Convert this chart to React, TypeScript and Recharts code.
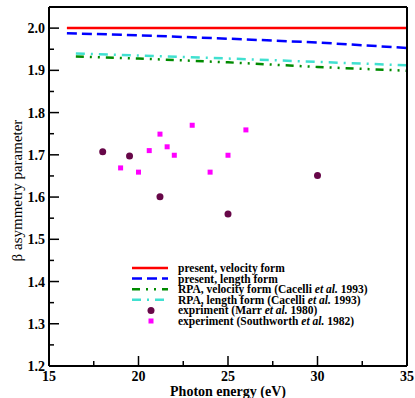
import { ComposedChart, Line, Scatter, XAxis, YAxis, Legend } from 'recharts'

const FONT = '"Liberation Serif", "Times New Roman", serif'

// axis ticks
const xTicks = [15, 17.5, 20, 22.5, 25, 27.5, 30, 32.5, 35]
const yTicks = [1.2, 1.25, 1.3, 1.35, 1.4, 1.45, 1.5, 1.55, 1.6, 1.65, 1.7, 1.75, 1.8, 1.85, 1.9, 1.95, 2.0]

// theory curves
const presentEnergy = [16, 20, 25, 30, 35]
const presentVelocity = [2.0, 2.0, 2.0, 2.0, 2.0]
const presentLength = [1.988, 1.983, 1.975, 1.966, 1.953]
const rpaEnergy = [16.5, 20, 25, 30, 35]
const rpaVelocity = [1.933, 1.928, 1.919, 1.908, 1.899]
const rpaLength = [1.94, 1.935, 1.928, 1.92, 1.912]

// experiments
const marrEnergy = [18, 19.5, 21.2, 25, 30]
const marrBeta = [1.707, 1.697, 1.601, 1.56, 1.651]
const southEnergy = [19, 20, 20.6, 21.2, 21.6, 22, 23, 24, 25, 26]
const southBeta = [1.669, 1.659, 1.71, 1.749, 1.719, 1.699, 1.77, 1.659, 1.699, 1.759]

const zip = (xs: number[], ys: number[]) => xs.map((x, i) => ({ x, y: ys[i] }))

const isMajorX = (v: number) => Math.abs(v % 5) < 1e-6
const isMajorY = (v: number) => Math.round(v * 100) % 10 === 0

function BottomTick({ x, y, payload }: any) {
  const major = isMajorX(payload.value)
  return (
    <g>
      <line x1={x} x2={x} y1={y} y2={y - (major ? 10 : 5)} stroke="#000" strokeWidth={1.5} />
      {major && (
        <text x={x} y={y + 15} textAnchor="middle" fontFamily={FONT} fontWeight="bold" fontSize={14} fill="#000">
          {payload.value}
        </text>
      )}
    </g>
  )
}

function TopTick({ x, y, payload }: any) {
  const major = isMajorX(payload.value)
  return <line x1={x} x2={x} y1={y} y2={y + (major ? 10 : 5)} stroke="#000" strokeWidth={1.5} />
}

function LeftTick({ x, y, payload }: any) {
  const major = isMajorY(payload.value)
  return (
    <g>
      <line x1={x} x2={x + (major ? 10 : 5)} y1={y} y2={y} stroke="#000" strokeWidth={1.5} />
      {major && (
        <text x={x - 4} y={y + 5} textAnchor="end" fontFamily={FONT} fontWeight="bold" fontSize={14} fill="#000">
          {payload.value.toFixed(1)}
        </text>
      )}
    </g>
  )
}

function RightTick({ x, y, payload }: any) {
  const major = isMajorY(payload.value)
  return <line x1={x} x2={x - (major ? 10 : 5)} y1={y} y2={y} stroke="#000" strokeWidth={1.5} />
}

const Dot = ({ cx, cy }: any) => <circle cx={cx} cy={cy} r={3.5} fill="#670748" />
const Square = ({ cx, cy }: any) => <rect x={cx - 2.5} y={cy - 2.5} width={5} height={5} fill="#ff00ff" />

const legendRows = [
  { label: 'present, velocity form', kind: 'line', color: '#ff0000', dash: undefined },
  { label: 'present, length form', kind: 'line', color: '#0000ff', dash: '10 5' },
  { label: 'RPA, velocity form (Cacelli', kind: 'line', color: '#008b00', dash: '8 6 2 6 2 6', year: '1993)' },
  { label: 'RPA, length form (Cacelli', kind: 'line', color: '#40e0d0', dash: '9 6 2 6', year: '1993)' },
  { label: 'expriment (Marr', kind: 'dot', color: '#670748', year: '1980)' },
  { label: 'experiment (Southworth', kind: 'square', color: '#ff00ff', year: '1982)' },
]

function LegendBox() {
  return (
    <svg width={260} height={66}>
      {legendRows.map((r, i) => {
        const cy = 6 + i * 10.6
        return (
          <g key={r.label}>
            {r.kind === 'line' && (
              <line x1={4} x2={40} y1={cy} y2={cy} stroke={r.color} strokeWidth={2.5} strokeDasharray={r.dash} />
            )}
            {r.kind === 'dot' && <circle cx={23} cy={cy} r={3.5} fill={r.color} />}
            {r.kind === 'square' && <rect x={20.5} y={cy - 2.5} width={5} height={5} fill={r.color} />}
            <text x={50} y={cy + 4} fontFamily={FONT} fontWeight="bold" fontSize={11.5} fill="#000">
              {r.label}
              {r.year && (
                <>
                  {' '}
                  <tspan fontStyle="italic">et al.</tspan> {r.year}
                </>
              )}
            </text>
          </g>
        )
      })}
    </svg>
  )
}

export default function App() {
  return (
    <div style={{ width: 415, height: 398, position: 'absolute', left: 0, top: 0, background: '#fff' }}>
      <ComposedChart width={415} height={398} margin={{ top: 6, right: 7, left: 0, bottom: 0 }}>
        <XAxis
          xAxisId="b"
          type="number"
          dataKey="x"
          domain={[15, 35]}
          ticks={xTicks}
          height={32}
          tickSize={0}
          tickMargin={0}
          tickLine={false}
          axisLine={{ stroke: '#000', strokeWidth: 2 }}
          tick={<BottomTick />}
          interval={0}
          label={{
            content: ({ viewBox }: any) => (
              <text
                x={viewBox.x + viewBox.width / 2}
                y={viewBox.y + viewBox.height - 2}
                textAnchor="middle"
                fontFamily={FONT}
                fontWeight="bold"
                fontSize={14}
                fill="#000"
              >
                Photon energy (eV)
              </text>
            ),
          }}
        />
        <XAxis
          xAxisId="t"
          orientation="top"
          type="number"
          dataKey="x"
          domain={[15, 35]}
          ticks={xTicks}
          height={1}
          tickSize={0}
          tickMargin={0}
          tickLine={false}
          axisLine={{ stroke: '#000', strokeWidth: 2 }}
          tick={<TopTick />}
          interval={0}
        />
        <YAxis
          yAxisId="l"
          type="number"
          dataKey="y"
          domain={[1.2, 2.05]}
          ticks={yTicks}
          width={49}
          tickSize={0}
          tickMargin={0}
          tickLine={false}
          axisLine={{ stroke: '#000', strokeWidth: 2 }}
          tick={<LeftTick />}
          interval={0}
          label={{
            content: ({ viewBox }: any) => {
              const cy = viewBox.y + viewBox.height / 2 + 4
              return (
                <text
                  x={17}
                  y={cy}
                  transform={`rotate(-90 17 ${cy})`}
                  textAnchor="middle"
                  dominantBaseline="central"
                  fontFamily={FONT}
                  fontSize={15}
                  fill="#000"
                >
                  β asymmetry parameter
                </text>
              )
            },
          }}
        />
        <YAxis
          yAxisId="r"
          orientation="right"
          type="number"
          dataKey="y"
          domain={[1.2, 2.05]}
          ticks={yTicks}
          width={1}
          tickSize={0}
          tickMargin={0}
          tickLine={false}
          axisLine={{ stroke: '#000', strokeWidth: 2 }}
          tick={<RightTick />}
          interval={0}
        />
        <Legend
          layout="horizontal"
          verticalAlign="middle"
          align="center"
          content={() => <LegendBox />}
          wrapperStyle={{ position: 'absolute', left: 128, top: 262, width: 260, height: 66 }}
        />
        <Line xAxisId="b" yAxisId="l" data={zip(presentEnergy, presentVelocity)} dataKey="y" stroke="#ff0000" strokeWidth={2.5} dot={false} isAnimationActive={false} />
        <Line xAxisId="b" yAxisId="l" data={zip(presentEnergy, presentLength)} dataKey="y" stroke="#0000ff" strokeWidth={2.5} strokeDasharray="10 5" dot={false} isAnimationActive={false} />
        <Line xAxisId="b" yAxisId="l" data={zip(rpaEnergy, rpaVelocity)} dataKey="y" stroke="#008b00" strokeWidth={2.5} strokeDasharray="8 6 2 6 2 6" dot={false} isAnimationActive={false} />
        <Line xAxisId="b" yAxisId="l" data={zip(rpaEnergy, rpaLength)} dataKey="y" stroke="#40e0d0" strokeWidth={2.5} strokeDasharray="9 6 2 6" dot={false} isAnimationActive={false} />
        <Scatter xAxisId="b" yAxisId="l" data={zip(marrEnergy, marrBeta)} dataKey="y" shape={<Dot />} isAnimationActive={false} />
        <Scatter xAxisId="b" yAxisId="l" data={zip(southEnergy, southBeta)} dataKey="y" shape={<Square />} isAnimationActive={false} />
      </ComposedChart>
    </div>
  )
}
